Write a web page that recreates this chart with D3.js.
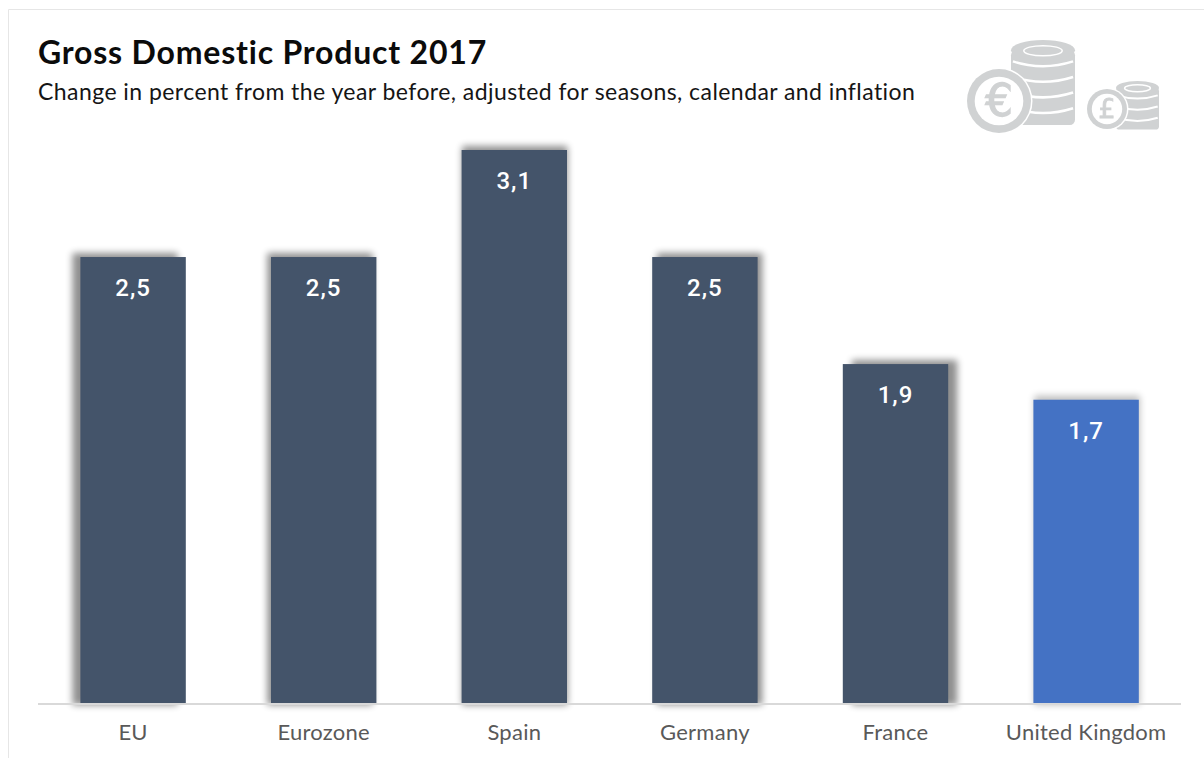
<!DOCTYPE html>
<html>
<head>
<meta charset="utf-8">
<script src="https://cdn.jsdelivr.net/npm/d3@7/dist/d3.min.js"></script>
<style>
html,body{margin:0;padding:0;background:#fff;overflow:hidden}
svg{display:block}
text{font-family:Lato,"Noto Sans",sans-serif}
</style>
</head>
<body>
<svg id="chart" width="1204" height="758"></svg>
<script>
const categories = ["EU","Eurozone","Spain","Germany","France","United Kingdom"];
const growth = [2.5,2.5,3.1,2.5,1.9,1.7];
const highlighted = "United Kingdom";
const titleText = "Gross Domestic Product 2017";
const subtitleText = "Change in percent from the year before, adjusted for seasons, calendar and inflation";

const svg = d3.select("#chart");
const defs = svg.append("defs");

// Blur for the shadow rectangles behind the bars
defs.append("filter").attr("id","shadowBlur")
  .attr("x","-25%").attr("y","-10%").attr("width","150%").attr("height","120%")
  .append("feGaussianBlur").attr("stdDeviation",3.5);
defs.append("filter").attr("id","iconSoft").append("feGaussianBlur").attr("stdDeviation",0.7);

// Card outline, open towards the bottom and right
svg.append("path").attr("d","M8.5,758V9.5H1204").attr("fill","none").attr("stroke","#e6e6e6");

const x = d3.scaleBand().domain(categories).range([37.8,1181.4]).paddingInner(0.447).paddingOuter(0.2235);
const y = d3.scaleLinear().domain([0,3.1]).range([703,150]);

// Shadows fan outwards from the middle of the row, as if lit from one point
const shadowShift = d3.scaleLinear().domain([x("EU"),x("France")]).range([-8,9]);

const rows = categories.map((c,i)=>({c,v:growth[i],hot:c===highlighted}));

svg.append("text").attr("x",38).attr("y",64).attr("font-size",32).attr("font-weight",700)
  .attr("letter-spacing",0.8).attr("fill","#0b0b0b").text(titleText);
svg.append("text").attr("x",38).attr("y",100).attr("font-size",23)
  .attr("letter-spacing",0.44).attr("fill","#151515").text(subtitleText);

// Bar shadows
svg.append("g").selectAll("rect").data(rows).join("rect")
  .attr("x",d=>x(d.c)+(d.hot?1:shadowShift(x(d.c))))
  .attr("y",d=>y(d.v)-4)
  .attr("width",x.bandwidth())
  .attr("height",d=>y(0)-y(d.v)+6)
  .attr("fill","#000")
  .attr("opacity",d=>d.hot?0.25:0.44)
  .attr("filter","url(#shadowBlur)");

// Bars
svg.append("g").selectAll("rect").data(rows).join("rect")
  .attr("x",d=>x(d.c)).attr("y",d=>y(d.v))
  .attr("width",x.bandwidth()).attr("height",d=>y(0)-y(d.v))
  .attr("fill",d=>d.hot?"#4472c4":"#44546a");

// Category axis
const axis = svg.append("g").attr("transform",`translate(0,${y(0)+0.5})`)
  .call(d3.axisBottom(x).tickSize(0).tickPadding(21));
axis.select(".domain").attr("stroke","#d9d9d9").attr("stroke-width",2)
  .attr("d","M38,0.5H1181");
axis.selectAll("text").attr("font-size",22).attr("letter-spacing",0.25)
  .attr("fill","#595959").attr("font-family","Lato,sans-serif");

// Value labels inside the bar tops
svg.append("g").selectAll("text").data(rows).join("text")
  .attr("x",d=>x(d.c)+x.bandwidth()/2).attr("y",d=>y(d.v)+39)
  .attr("text-anchor","middle").attr("font-size",24).attr("font-weight",500)
  .attr("fill","#fff").style("font-family","Roboto,sans-serif")
  .attr("letter-spacing",1)
  .text(d=>String(d.v.toFixed(1)).replace(".",","));

// Decorative coin stacks, one large with a euro and one small with a pound
const coinGrey = "#d0d2d3";
function coinStack(g, sx, sw, top, bottom, layers, cx, cy, r, symbol){
  const ry = sw*0.16;
  g.append("rect").attr("x",sx).attr("y",top+ry).attr("width",sw).attr("height",bottom-top-ry*1.2)
    .attr("rx",sw*0.08).attr("fill",coinGrey);
  g.append("ellipse").attr("cx",sx+sw/2).attr("cy",top+ry).attr("rx",sw/2).attr("ry",ry).attr("fill",coinGrey);
  g.append("ellipse").attr("cx",sx+sw/2).attr("cy",top+ry*1.05).attr("rx",sw*0.3).attr("ry",ry*0.5)
    .attr("fill","none").attr("stroke","#fff").attr("stroke-width",1.5);
  const gap = (bottom-top-ry*2.4)/layers;
  d3.range(layers).forEach(i=>{
    const ly = top+ry*2.4+gap*i;
    g.append("path")
      .attr("d",`M${sx+sw*0.03},${ly-sw*0.05}Q${sx+sw*0.5},${ly+sw*0.1} ${sx+sw*0.97},${ly-sw*0.05}`)
      .attr("fill","none").attr("stroke","#fff").attr("stroke-width",Math.max(2,sw*0.04));
  });
  g.append("circle").attr("cx",cx).attr("cy",cy).attr("r",r+1.5).attr("fill","#fff");
  g.append("circle").attr("cx",cx).attr("cy",cy).attr("r",r).attr("fill",coinGrey);
  g.append("circle").attr("cx",cx).attr("cy",cy).attr("r",r*0.76).attr("fill","#fff");
  g.append("text").attr("x",cx).attr("y",cy+r*0.47).attr("text-anchor","middle")
    .attr("font-size",r*1.36).attr("font-weight",400).attr("fill",coinGrey)
    .attr("stroke",coinGrey).attr("stroke-width",r*0.04)
    .style("font-family","'DejaVu Sans',sans-serif").text(symbol);
}
const icon = svg.append("g").attr("filter","url(#iconSoft)");
coinStack(icon,1011,64,40,127,4,999,101,32,"€");
coinStack(icon,1116,43,81,131,3,1107,109,20,"£");
</script>
</body>
</html>
